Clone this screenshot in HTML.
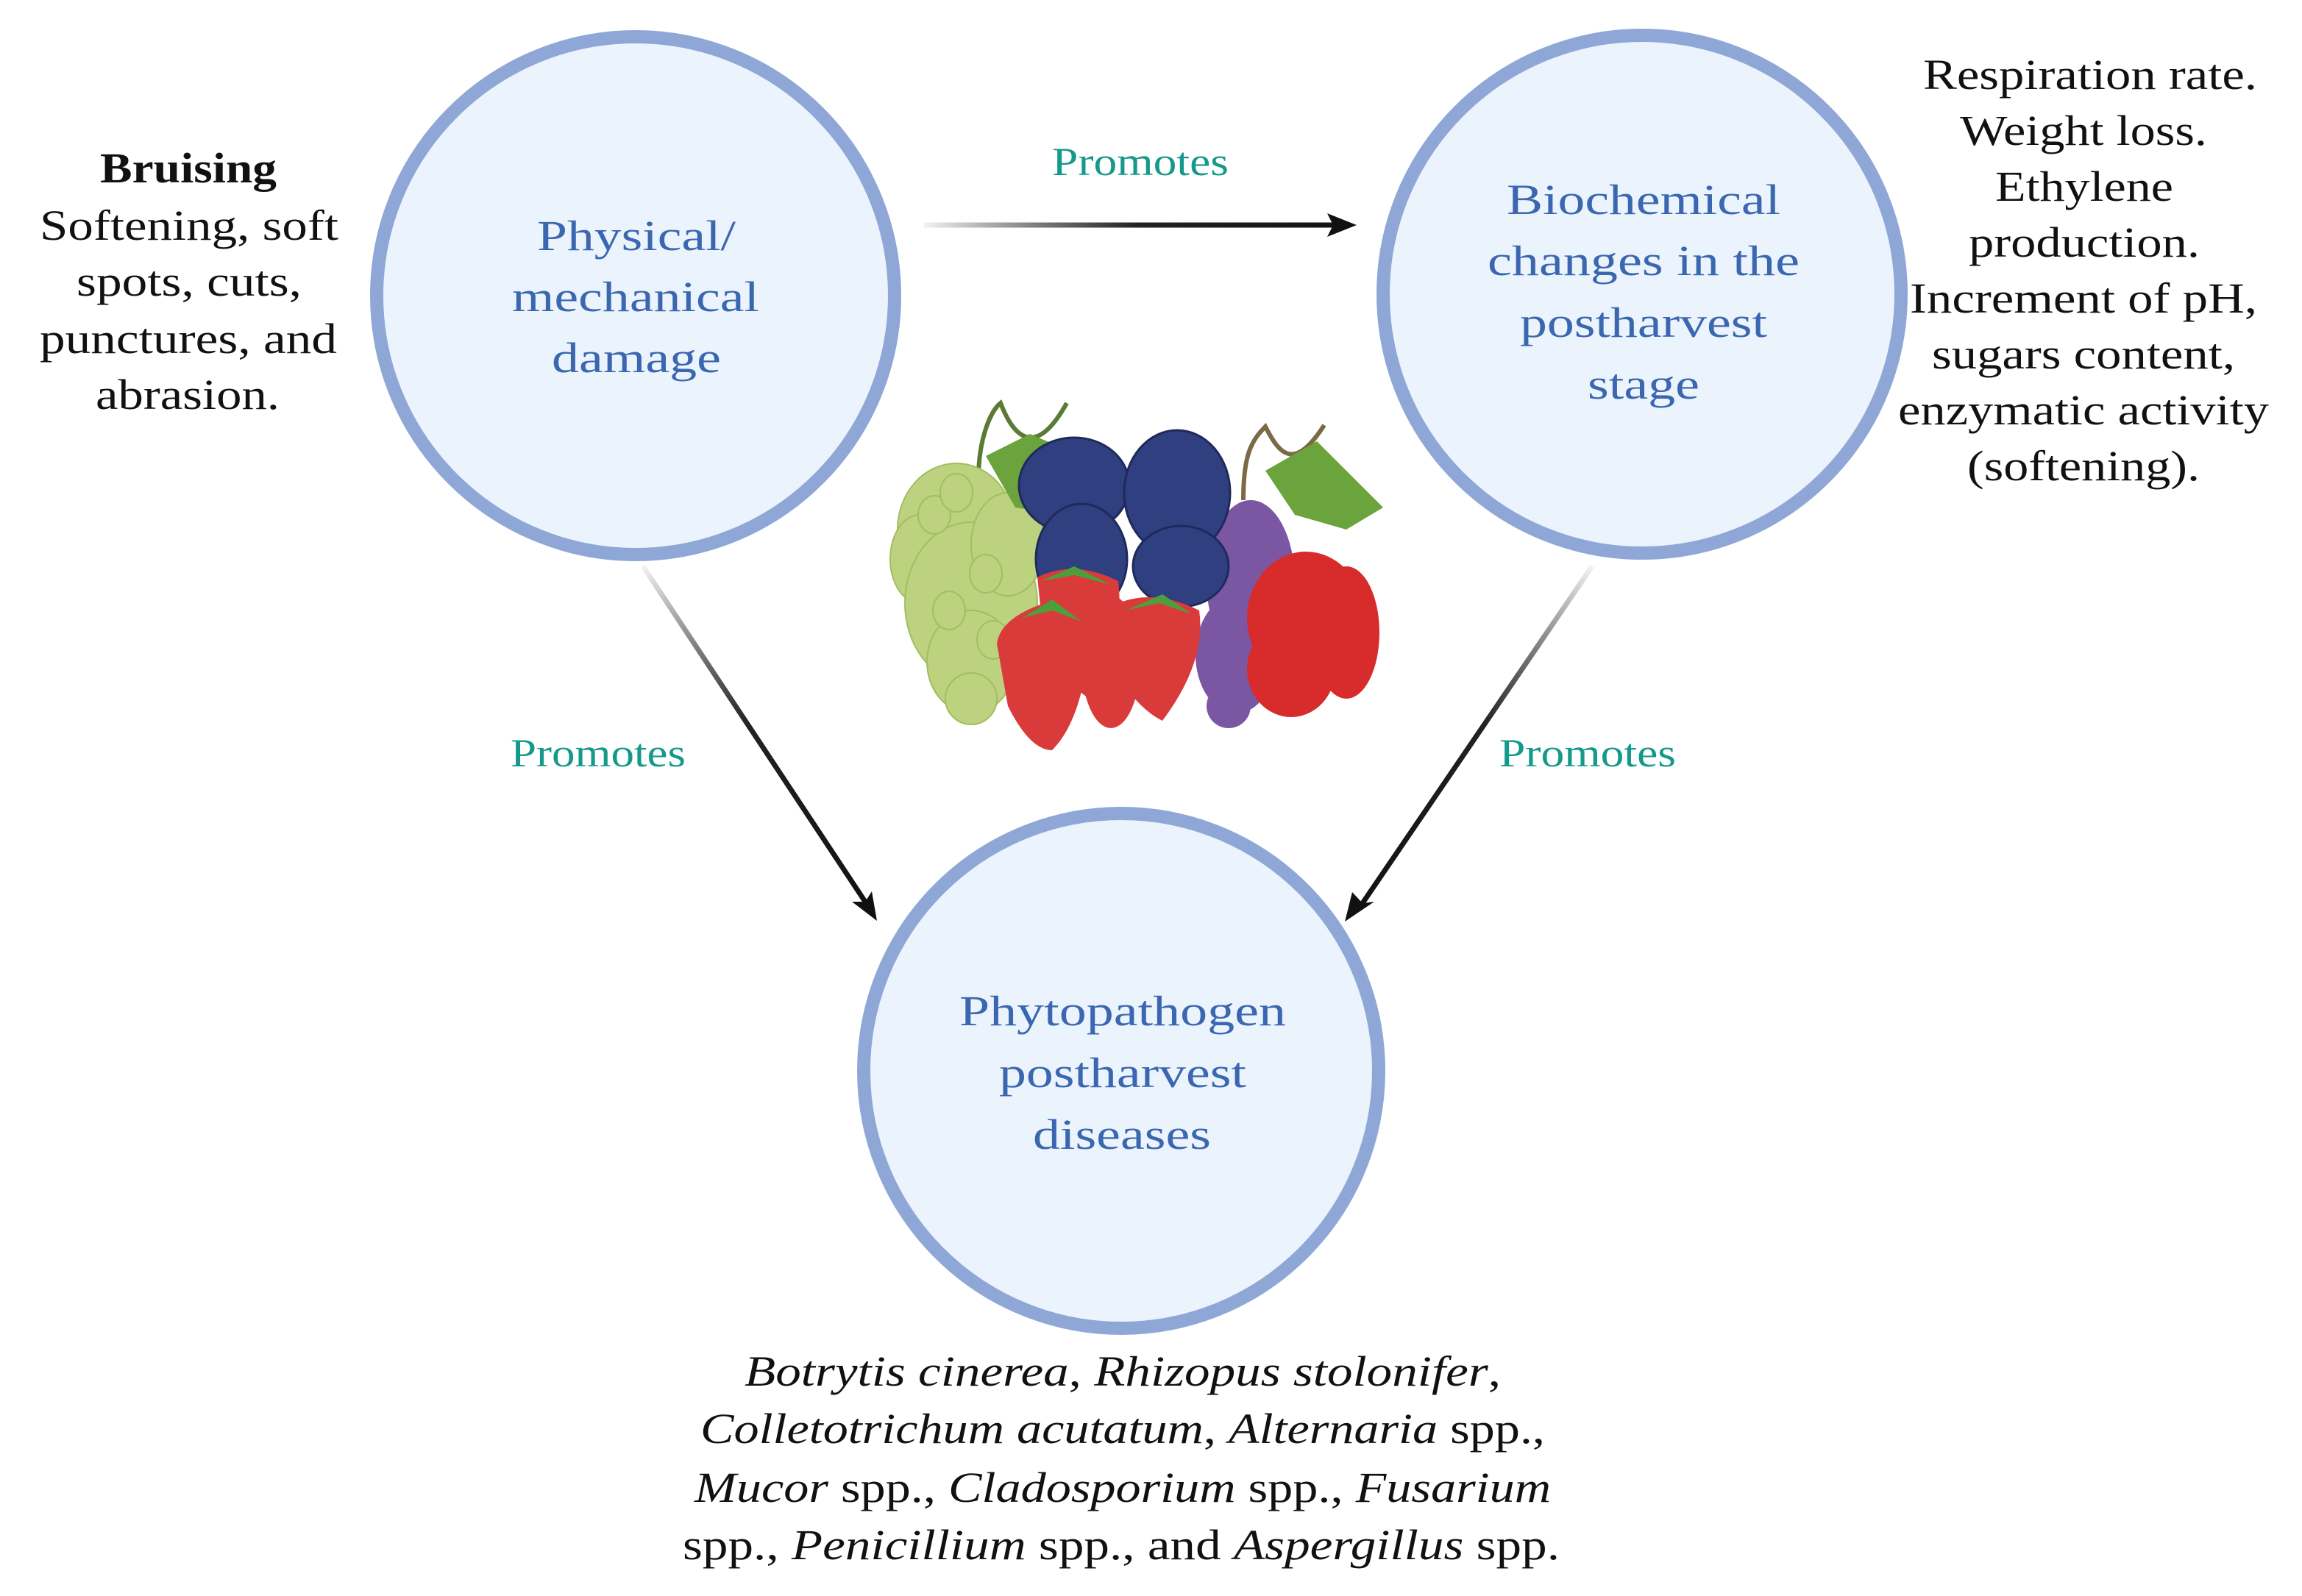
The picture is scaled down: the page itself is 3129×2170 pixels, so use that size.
<!DOCTYPE html>
<html><head><meta charset="utf-8"><style>html,body{margin:0;padding:0;background:#fff}svg{display:block}</style></head>
<body>
<svg width="3129" height="2170" viewBox="0 0 3129 2170" xmlns="http://www.w3.org/2000/svg" font-family="Liberation Serif, serif">
<defs>
<linearGradient id="gt" x1="1256" y1="0" x2="1840" y2="0" gradientUnits="userSpaceOnUse"><stop offset="0" stop-color="#000" stop-opacity="0.05"/><stop offset="0.5" stop-color="#222"/><stop offset="1" stop-color="#111"/></linearGradient>
<linearGradient id="gl" x1="874" y1="770" x2="1190" y2="1248" gradientUnits="userSpaceOnUse"><stop offset="0" stop-color="#000" stop-opacity="0.05"/><stop offset="0.45" stop-color="#222"/><stop offset="1" stop-color="#111"/></linearGradient>
<linearGradient id="gr" x1="2164" y1="770" x2="1836" y2="1248" gradientUnits="userSpaceOnUse"><stop offset="0" stop-color="#000" stop-opacity="0.05"/><stop offset="0.45" stop-color="#222"/><stop offset="1" stop-color="#111"/></linearGradient>
</defs>
<g fill="#ebf3fc" stroke="#8fa7d6" stroke-width="18">
<circle cx="864" cy="402" r="352"/>
<circle cx="2232" cy="400" r="352"/>
<circle cx="1524" cy="1456" r="350"/>
</g>
<line x1="1256" y1="306" x2="1812" y2="306" stroke="url(#gt)" stroke-width="7"/>
<polygon points="1844,306 1804,290 1812,306 1804,322" fill="#111"/>
<line x1="874" y1="770" x2="1176" y2="1226" stroke="url(#gl)" stroke-width="7"/>
<polygon points="1192,1252 1158,1226 1176,1226 1185,1212" fill="#111"/>
<line x1="2164" y1="770" x2="1852" y2="1228" stroke="url(#gr)" stroke-width="7"/>
<polygon points="1828,1253 1838,1213 1852,1228 1868,1226" fill="#111"/>
<!-- fruit -->
<g>
<path d="M1330,650 C1330,600 1345,560 1360,548 C1380,600 1410,620 1450,548" stroke="#5a7a35" stroke-width="6" fill="none"/>
<path d="M1690,680 C1690,620 1700,600 1720,580 C1740,620 1760,640 1800,578" stroke="#7a6a45" stroke-width="6" fill="none"/>
<g fill="#bcd27e" stroke="#a3bd62" stroke-width="2">
<ellipse cx="1300" cy="720" rx="80" ry="90"/><ellipse cx="1250" cy="760" rx="40" ry="60"/><ellipse cx="1320" cy="820" rx="90" ry="110"/><ellipse cx="1320" cy="900" rx="60" ry="70"/><ellipse cx="1320" cy="950" rx="35" ry="35"/><ellipse cx="1370" cy="740" rx="50" ry="70"/>
<ellipse cx="1270" cy="700" rx="22" ry="26"/><ellipse cx="1300" cy="670" rx="22" ry="26"/><ellipse cx="1340" cy="780" rx="22" ry="26"/><ellipse cx="1290" cy="830" rx="22" ry="26"/><ellipse cx="1350" cy="870" rx="22" ry="26"/>
</g>
<path d="M1340,620 L1400,590 L1470,620 L1450,700 L1380,690 Z" fill="#6ba33c"/>
<path d="M1720,640 L1790,600 L1880,690 L1830,720 L1760,700 Z" fill="#6ba33c"/>
<g fill="#7b56a3"><ellipse cx="1700" cy="790" rx="60" ry="110"/><ellipse cx="1680" cy="890" rx="55" ry="80"/><ellipse cx="1670" cy="960" rx="30" ry="30"/></g>
<g fill="#2f3f7f" stroke="#1f2a5c" stroke-width="3">
<ellipse cx="1460" cy="660" rx="75" ry="65"/><ellipse cx="1600" cy="670" rx="72" ry="85"/><ellipse cx="1605" cy="770" rx="65" ry="55"/><ellipse cx="1470" cy="760" rx="62" ry="75"/>
</g>
<g fill="#d93b3b">
<path d="M1355,875 Q1360,840 1420,820 Q1480,840 1480,880 Q1470,980 1430,1020 Q1400,1020 1370,960 Z"/>
<path d="M1410,785 Q1460,760 1520,790 Q1530,880 1480,950 Q1440,920 1420,880 Z"/>
<path d="M1520,820 Q1570,800 1630,830 Q1640,900 1580,980 Q1540,960 1510,900 Z"/>
<ellipse cx="1510" cy="900" rx="40" ry="90"/>
</g>
<g fill="#4f9e3c"><path d="M1390,840 L1430,815 L1470,845 L1430,830 Z"/><path d="M1415,790 L1460,770 L1510,795 L1460,782 Z"/><path d="M1530,830 L1580,808 L1620,835 L1575,820 Z"/></g>
<g fill="#d82c2c"><ellipse cx="1775" cy="840" rx="80" ry="90"/><ellipse cx="1755" cy="910" rx="60" ry="65"/><ellipse cx="1830" cy="860" rx="45" ry="90"/></g>
</g>
<g fill="#3a67b0" font-size="58" text-anchor="middle">
<text x="865" y="340" textLength="270" lengthAdjust="spacingAndGlyphs">Physical/</text>
<text x="864" y="423" textLength="336" lengthAdjust="spacingAndGlyphs">mechanical</text>
<text x="865" y="506" textLength="230" lengthAdjust="spacingAndGlyphs">damage</text>
<text x="2234" y="291" textLength="372" lengthAdjust="spacingAndGlyphs">Biochemical</text>
<text x="2234" y="374" textLength="424" lengthAdjust="spacingAndGlyphs">changes in the</text>
<text x="2234" y="458" textLength="336" lengthAdjust="spacingAndGlyphs">postharvest</text>
<text x="2234" y="542" textLength="152" lengthAdjust="spacingAndGlyphs">stage</text>
<text x="1526" y="1394" textLength="444" lengthAdjust="spacingAndGlyphs">Phytopathogen</text>
<text x="1526" y="1478" textLength="336" lengthAdjust="spacingAndGlyphs">postharvest</text>
<text x="1525" y="1562" textLength="242" lengthAdjust="spacingAndGlyphs">diseases</text>
</g>
<g fill="#14998a" font-size="54" text-anchor="middle">
<text x="1550" y="238" textLength="240" lengthAdjust="spacingAndGlyphs">Promotes</text>
<text x="813" y="1042" textLength="238" lengthAdjust="spacingAndGlyphs">Promotes</text>
<text x="2158" y="1042" textLength="240" lengthAdjust="spacingAndGlyphs">Promotes</text>
</g>
<g fill="#111" font-size="58" text-anchor="middle">
<text x="256" y="248" font-weight="bold" textLength="240" lengthAdjust="spacingAndGlyphs">Bruising</text>
<text x="257" y="326" textLength="406" lengthAdjust="spacingAndGlyphs">Softening, soft</text>
<text x="257" y="402" textLength="306" lengthAdjust="spacingAndGlyphs">spots, cuts,</text>
<text x="256" y="480" textLength="404" lengthAdjust="spacingAndGlyphs">punctures, and</text>
<text x="255" y="556" textLength="250" lengthAdjust="spacingAndGlyphs">abrasion.</text>
<text x="2841" y="121" textLength="454" lengthAdjust="spacingAndGlyphs">Respiration rate.</text>
<text x="2832" y="197" textLength="336" lengthAdjust="spacingAndGlyphs">Weight loss.</text>
<text x="2833" y="273" textLength="242" lengthAdjust="spacingAndGlyphs">Ethylene</text>
<text x="2833" y="349" textLength="314" lengthAdjust="spacingAndGlyphs">production.</text>
<text x="2832" y="425" textLength="472" lengthAdjust="spacingAndGlyphs">Increment of pH,</text>
<text x="2832" y="501" textLength="412" lengthAdjust="spacingAndGlyphs">sugars content,</text>
<text x="2832" y="577" textLength="504" lengthAdjust="spacingAndGlyphs">enzymatic activity</text>
<text x="2832" y="653" textLength="316" lengthAdjust="spacingAndGlyphs">(softening).</text>
</g>
<g fill="#111" font-size="58" text-anchor="middle">
<text x="1526" y="1884" textLength="1028" lengthAdjust="spacingAndGlyphs"><tspan font-style="italic">Botrytis cinerea</tspan>, <tspan font-style="italic">Rhizopus stolonifer</tspan>,</text>
<text x="1526" y="1962" textLength="1148" lengthAdjust="spacingAndGlyphs"><tspan font-style="italic">Colletotrichum acutatum</tspan>, <tspan font-style="italic">Alternaria</tspan> spp.,</text>
<text x="1526" y="2042" textLength="1164" lengthAdjust="spacingAndGlyphs"><tspan font-style="italic">Mucor</tspan> spp., <tspan font-style="italic">Cladosporium</tspan> spp., <tspan font-style="italic">Fusarium</tspan></text>
<text x="1524" y="2120" textLength="1192" lengthAdjust="spacingAndGlyphs">spp., <tspan font-style="italic">Penicillium</tspan> spp., and <tspan font-style="italic">Aspergillus</tspan> spp.</text>
</g>
</svg>
</body></html>
